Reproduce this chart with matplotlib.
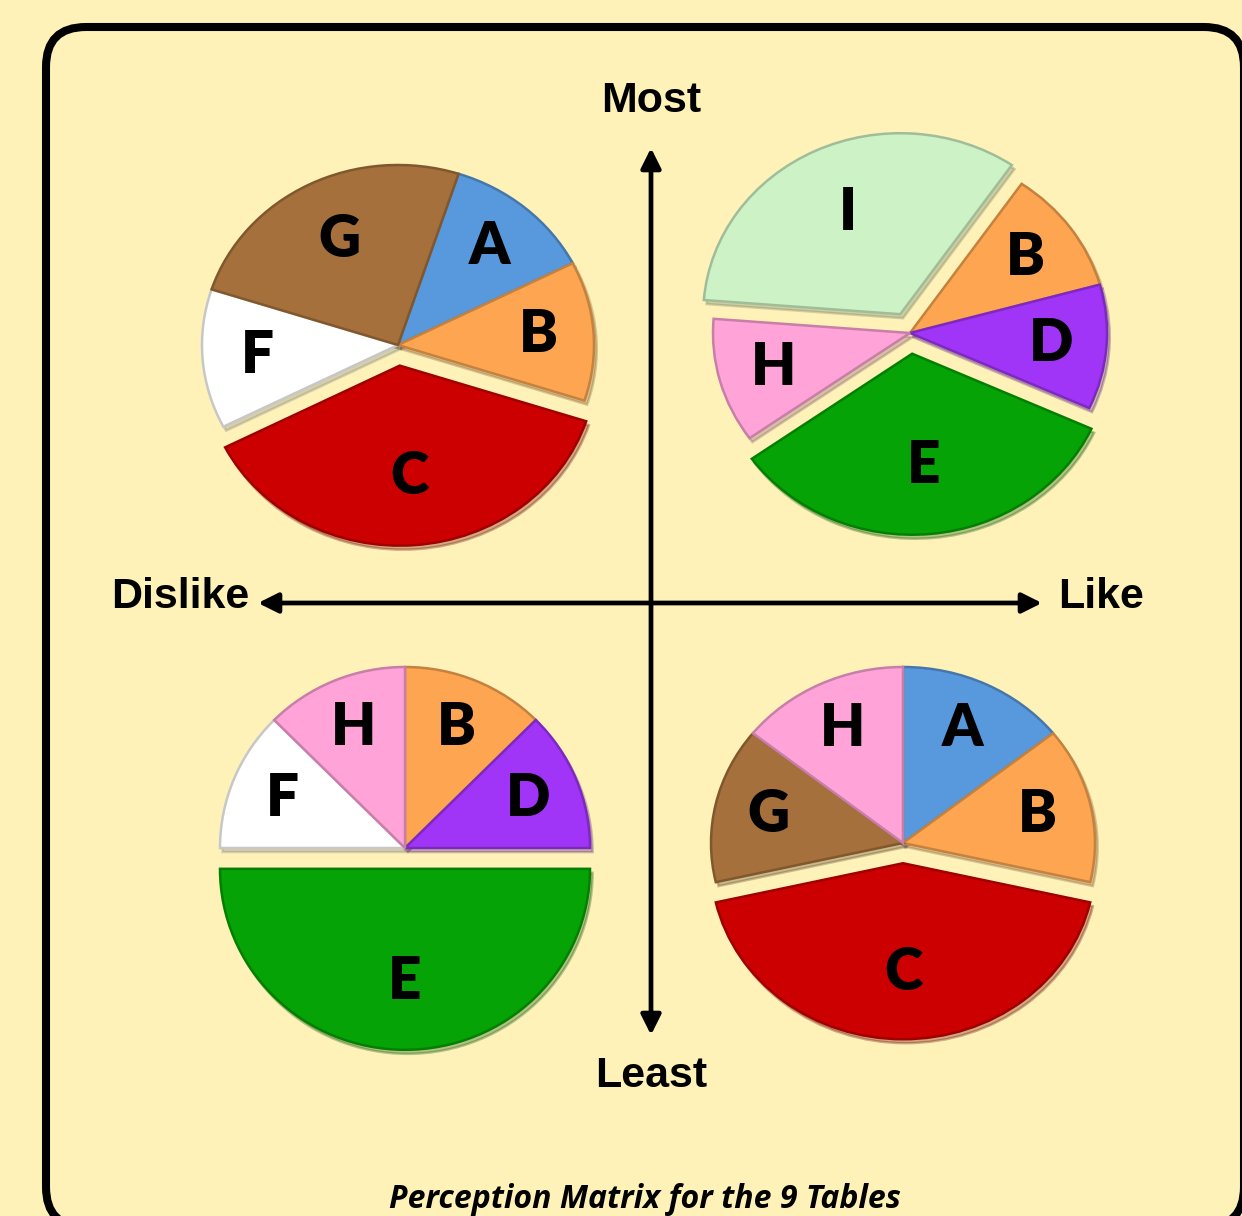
import numpy as np
import matplotlib.pyplot as plt
from matplotlib.colors import to_rgb
from matplotlib.patches import FancyBboxPatch

W, H = 1242, 1216
BG = '#FEF2B8'

# table colours
table_colors = {
    'A': '#5899DE', 'B': '#FDA550', 'C': '#CC0000', 'D': '#A035F8',
    'E': '#05A305', 'F': '#FFFFFF', 'G': '#A5703B', 'H': '#FFA3D8',
    'I': '#CDF2C6',
}

# quadrant data (share of votes per table, clockwise from start angle)
most_dislike_labels = ['A', 'B', 'C', 'F', 'G']
most_dislike_values = [1, 1, 3, 1, 2]
most_dislike_explode = ['C']

most_like_labels = ['B', 'D', 'E', 'H', 'I']
most_like_values = [1, 1, 3, 1, 3]
most_like_explode = ['E', 'I']

least_dislike_labels = ['B', 'D', 'E', 'F', 'H']
least_dislike_values = [1, 1, 4, 1, 1]
least_dislike_explode = ['E']

least_like_labels = ['A', 'B', 'C', 'G', 'H']
least_like_values = [1, 1, 3, 1, 1]
least_like_explode = ['C']

axis_labels = ['Most', 'Least', 'Dislike', 'Like']
title = 'Perception Matrix for the 9 Tables'

LABEL_FONT = ['Lato', 'DejaVu Sans']
TITLE_FONT = ['Open Sans', 'DejaVu Sans']
AXIS_FONT = ['Liberation Sans', 'DejaVu Sans']


def darker(c, f=0.78):
    r, g, b = to_rgb(c)
    return (r * f, g * f, b * f)


def draw_pie(fig, cx, cy, rx, ry, labels, values, exploded, startangle):
    pad = 1.4
    aw, ah = 2 * pad * rx, 2 * pad * ry
    ax = fig.add_axes([(cx - aw / 2) / W, 1 - (cy + ah / 2) / H, aw / W, ah / H])
    ax.patch.set_alpha(0)
    wedges, _ = ax.pie(
        values,
        colors=[table_colors[l] for l in labels],
        explode=[0.115 if l in exploded else 0 for l in labels],
        startangle=startangle, counterclock=False,
        wedgeprops=dict(linewidth=1.8),
        shadow={'ox': 0.01, 'oy': -0.016, 'shade': 0.5, 'alpha': 0.3},
    )
    ax.set_aspect('auto')
    ax.set_xlim(-pad, pad)
    ax.set_ylim(-pad, pad)
    for w, l in zip(wedges, labels):
        w.set_edgecolor(darker(table_colors[l]))
        span = w.theta2 - w.theta1
        mid = np.deg2rad((w.theta1 + w.theta2) / 2)
        d = 0.72 if span < 60 else (0.66 if span < 100 else 0.62)
        x0, y0 = w.center
        ax.text(x0 + d * np.cos(mid), y0 + d * np.sin(mid), l,
                ha='center', va='center', fontsize=42, fontweight='heavy',
                family=LABEL_FONT, color='black', zorder=5)
    return ax


fig = plt.figure(figsize=(W / 100, H / 100), dpi=100, facecolor=BG)
bg = fig.add_axes([0, 0, 1, 1])
bg.set_xlim(0, W)
bg.set_ylim(H, 0)
bg.axis('off')
bg.set_facecolor(BG)

frame = FancyBboxPatch((46, 27), 1198, 1200,
                       boxstyle='round,pad=0,rounding_size=40',
                       facecolor=BG, edgecolor='black', linewidth=5.8)
bg.add_patch(frame)

# axes arrows
arrow = dict(arrowstyle='<|-|>', color='black', lw=3.4,
             mutation_scale=30, shrinkA=0, shrinkB=0)
bg.annotate('', xy=(651, 148), xytext=(651, 1035), arrowprops=arrow)
bg.annotate('', xy=(258, 603), xytext=(1042, 603), arrowprops=arrow)

txt = dict(fontsize=31, fontweight='bold', family=AXIS_FONT, color='black')
bg.text(651, 101, axis_labels[0], ha='center', va='center', **txt)
bg.text(651, 1076, axis_labels[1], ha='center', va='center', **txt)
bg.text(249, 597, axis_labels[2], ha='right', va='center', **txt)
bg.text(1058, 597, axis_labels[3], ha='left', va='center', **txt)

bg.text(645, 1199, title, ha='center', va='center', fontsize=23,
        fontweight='bold', style='italic', family=TITLE_FONT, color='black')

draw_pie(fig, 398, 345, 196, 180, most_dislike_labels, most_dislike_values,
         most_dislike_explode, 72)
draw_pie(fig, 910, 333, 197, 181, most_like_labels, most_like_values,
         most_like_explode, 55.5)
draw_pie(fig, 405, 848, 185, 181, least_dislike_labels, least_dislike_values,
         least_dislike_explode, 90)
draw_pie(fig, 903, 843, 192, 176, least_like_labels, least_like_values,
         least_like_explode, 90)

fig.savefig('out.png', dpi=100, facecolor=BG)
